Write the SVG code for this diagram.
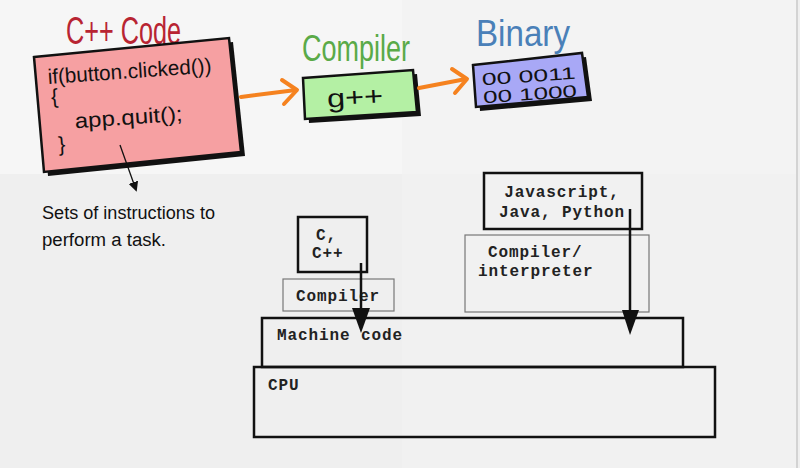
<svg xmlns="http://www.w3.org/2000/svg" width="800" height="468" viewBox="0 0 800 468">
<style>
.hand{font-family:"Liberation Sans Narrow","Liberation Sans",sans-serif;}
.mono{font-family:"Liberation Mono","Courier New",monospace;font-weight:bold;font-size:16px;letter-spacing:0.9px;fill:#222;}
.thick{fill:none;stroke:#111;stroke-width:2.5;}
.thin{fill:none;stroke:#777;stroke-width:1.2;}
.orange{stroke:#f5821f;stroke-width:4;fill:none;stroke-linecap:round;stroke-linejoin:round;}
</style>
<defs>
<marker id="tri" markerWidth="10" markerHeight="10" refX="5" refY="5" orient="auto" markerUnits="userSpaceOnUse">
<path d="M0,0 L10,5 L0,10 z" fill="#111"/>
</marker>
</defs>
<rect x="0" y="0" width="800" height="468" fill="#efefef"/>
<rect x="0" y="0" width="402" height="174" fill="#f6f6f6"/>
<rect x="402" y="0" width="396" height="174" fill="#f3f3f3"/>
<rect x="402" y="174" width="396" height="294" fill="#f1f1f1"/>
<line x1="797" y1="0" x2="797" y2="468" stroke="#c8c8c8" stroke-width="1.5"/>

<g id="cpp-code">
<text class="hand" x="66" y="44" font-size="38" fill="#b82432" textLength="115" lengthAdjust="spacingAndGlyphs">C++ Code</text>
<polygon points="38,61 233,42 245,156 48,176" fill="#111"/>
<polygon points="34,57 229,38 241,152 44,172" fill="#f6a0a2" stroke="#111" stroke-width="2.5"/>
<g transform="rotate(-4 48 82)" class="hand" fill="#111" font-size="21">
<text x="48" y="84" textLength="164" lengthAdjust="spacingAndGlyphs">if(button.clicked())</text>
<text x="50" y="104">{</text>
<text x="72" y="130" textLength="108" lengthAdjust="spacingAndGlyphs">app.quit();</text>
<text x="54" y="152">}</text>
</g>
</g>

<g id="compiler">
<text class="hand" x="302" y="61" font-size="36" fill="#5aaa48" textLength="108" lengthAdjust="spacingAndGlyphs">Compiler</text>
<polygon points="307,82 417,74 421,116 309,123" fill="#111"/>
<polygon points="303,78 413,70 417,112 305,119" fill="#b4f0a4" stroke="#111" stroke-width="2.5"/>
<text class="hand" x="327" y="106" font-size="26" fill="#111" textLength="56" lengthAdjust="spacingAndGlyphs" transform="rotate(-3 355 98)">g++</text>
</g>

<g id="binary">
<text class="hand" x="476" y="46" font-size="36" fill="#4a80b8" textLength="94" lengthAdjust="spacingAndGlyphs">Binary</text>
<polygon points="477,69 586,57 592,101 480,111" fill="#111"/>
<polygon points="473,65 582,53 588,97 476,107" fill="#a8a8f6" stroke="#111" stroke-width="2.5"/>
<g transform="rotate(-4 530 80)" class="hand" font-size="17" fill="#111">
<text x="482" y="82" textLength="94" lengthAdjust="spacingAndGlyphs">00    0011</text>
<text x="482" y="100" textLength="94" lengthAdjust="spacingAndGlyphs">00    1000</text>
</g>
</g>

<g id="note">
<text class="hand" x="42" y="219" font-size="18" fill="#111" textLength="173" lengthAdjust="spacingAndGlyphs">Sets of instructions to</text>
<text class="hand" x="42" y="246" font-size="18" fill="#111" textLength="124" lengthAdjust="spacingAndGlyphs">perform a task.</text>
</g>

<g id="c-cpp"><rect class="thick" x="298" y="217" width="69" height="55"/>
<text class="mono" x="316" y="240">C,</text><text class="mono" x="312" y="258">C++</text></g>
<g id="compiler-box"><rect class="thin" x="283" y="279" width="111" height="32"/>
<text class="mono" x="296" y="301">Compiler</text></g>
<g id="js"><rect class="thick" x="484" y="173" width="158" height="56"/>
<text class="mono" x="562" y="197" text-anchor="middle">Javascript,</text>
<text class="mono" x="562" y="217" text-anchor="middle">Java, Python</text></g>
<g id="interp"><rect class="thin" x="465" y="235" width="184" height="77"/>
<text class="mono" x="488" y="257">Compiler/</text>
<text class="mono" x="478" y="276">interpreter</text></g>
<g id="machine"><rect class="thick" x="262" y="318" width="421" height="49"/>
<text class="mono" x="277" y="340">Machine code</text></g>
<g id="cpu"><rect class="thick" x="254" y="367" width="461" height="70"/>
<text class="mono" x="268" y="390">CPU</text></g>

<g id="connectors">
<polyline class="orange" points="241,97 296,90"/>
<polyline class="orange" points="282,80 297,90 284,104"/>
<polyline class="orange" points="419,88 466,79"/>
<polyline class="orange" points="452,69 467,79 455,93"/>
<line x1="120" y1="145" x2="135" y2="187" stroke="#111" stroke-width="1.3" marker-end="url(#tri)"/>
<line x1="361" y1="263" x2="361" y2="310" stroke="#111" stroke-width="2.5"/>
<polygon points="352,308 370,308 361,333" fill="#111"/>
<line x1="630" y1="209" x2="630" y2="312" stroke="#111" stroke-width="2.5"/>
<polygon points="622,310 639,310 630,335" fill="#111"/>
</g>
</svg>
